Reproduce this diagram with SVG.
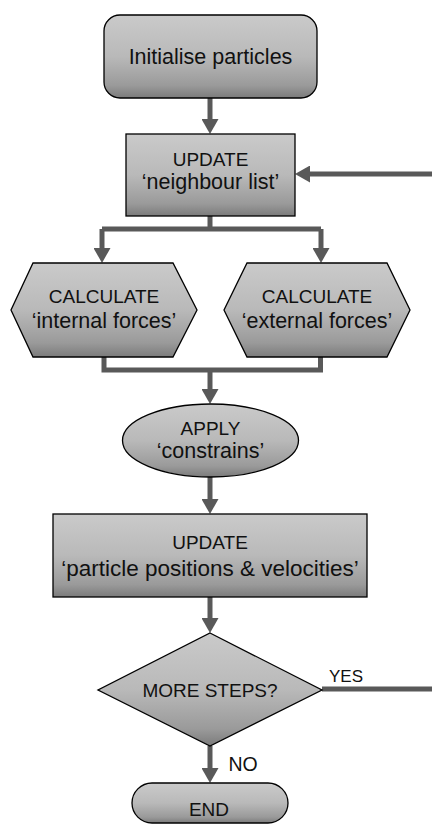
<svg xmlns="http://www.w3.org/2000/svg" width="432" height="825" viewBox="0 0 432 825">
<defs>
<linearGradient id="g" x1="0" y1="0" x2="0" y2="1">
<stop offset="0" stop-color="#cacaca"/>
<stop offset="0.5" stop-color="#b9b9b9"/>
<stop offset="0.85" stop-color="#9a9a9a"/>
<stop offset="1" stop-color="#7b7b7b"/>
</linearGradient>
<marker id="ah" markerUnits="userSpaceOnUse" markerWidth="15" markerHeight="17" viewBox="0 0 15 17" refX="5" refY="8.5" orient="auto">
<path d="M0,0 L15,8.5 L0,17 Z" fill="#595959"/>
</marker>
<style>
.n{fill:url(#g);stroke:#000;stroke-width:1.3}
.t{font-family:"Liberation Sans",Arial,sans-serif;font-size:21.5px;fill:#111;text-anchor:middle}
.u{font-size:19px}
.c{fill:none;stroke:#595959;stroke-width:5}
.a{marker-end:url(#ah)}
</style>
</defs>
<rect width="432" height="825" fill="#fff"/>
<g id="connectors">
<path class="c a" d="M210,98 V124"/>
<path class="c a" d="M432,174 H305"/>
<path class="c" d="M210,216 V229"/>
<path class="c a" d="M102,229 V253"/>
<path class="c a" d="M321,229 V253"/>
<path class="c" d="M102,229 H321"/>
<path class="c" d="M104,357 V370 H320.5 V357"/>
<path class="c a" d="M210,370 V394"/>
<path class="c a" d="M210,477 V504"/>
<path class="c a" d="M210,597 V623"/>
<path class="c" d="M322,689 H432"/>
<path class="c a" d="M210,746 V773"/>
</g>
<g id="n1"><rect class="n" x="104" y="15" width="213" height="83" rx="16"/><text class="t" x="210.5" y="64">Initialise particles</text></g>
<g id="n2"><rect class="n" x="126" y="134" width="169" height="82"/><text class="t u" x="210.5" y="166">UPDATE</text><text class="t" x="210.5" y="189">‘neighbour list’</text></g>
<g id="n3"><polygon class="n" points="33,263 173,263 197,310 173,357 33,357 11,310"/><text class="t u" x="104" y="303">CALCULATE</text><text class="t" x="104" y="328">‘internal forces’</text></g>
<g id="n4"><polygon class="n" points="247,263 387,263 410,310 387,357 247,357 224,310"/><text class="t u" x="317" y="303">CALCULATE</text><text class="t" x="317" y="328">‘external forces’</text></g>
<g id="n5"><ellipse class="n" cx="210.5" cy="440.5" rx="88" ry="36.5"/><text class="t u" x="210.5" y="435">APPLY</text><text class="t" x="210.5" y="458">‘constrains’</text></g>
<g id="n6"><rect class="n" x="53" y="514" width="314" height="83"/><text class="t u" x="210" y="549">UPDATE</text><text class="t" x="210" y="576" style="font-size:22.5px">‘particle positions &amp; velocities’</text></g>
<g id="n7"><polygon class="n" points="210,633 322,690 210,746 98,690"/><text class="t u" x="210" y="697">MORE STEPS?</text></g>
<g id="n8"><rect class="n" x="132" y="783" width="156" height="40" rx="20"/><text class="t u" x="209" y="816">END</text></g>
<text class="t" x="346" y="682" style="font-size:17px">YES</text>
<text class="t" x="243" y="771" style="font-size:19.5px">NO</text>
</svg>
